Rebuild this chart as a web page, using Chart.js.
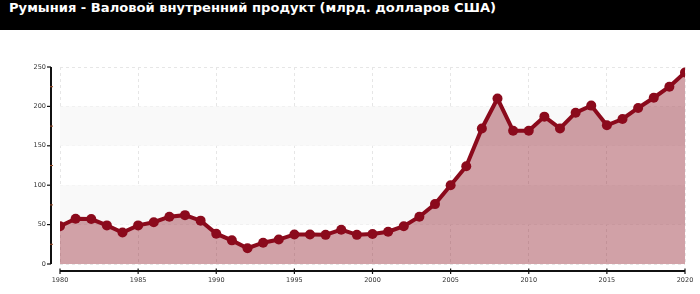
<!DOCTYPE html>
<html>
<head>
<meta charset="utf-8">
<script src="https://cdn.jsdelivr.net/npm/chart.js@4/dist/chart.umd.min.js"></script>
<style>
  body { margin: 0; background: #fff; }
  #title {
    height: 30px; line-height: 30px; background: #000; color: #fff;
    font: bold 13.1px "DejaVu Sans", sans-serif; padding-left: 9px;
  }
  #wrap { width: 700px; height: 264px; }
</style>
</head>
<body>
<div id="title">Румыния - Валовой внутренний продукт (млрд. долларов США)</div>
<div id="wrap"><canvas id="gdpChart" width="700" height="264"></canvas></div>
<script>
const years = [
  1980, 1981, 1982, 1983, 1984, 1985, 1986, 1987, 1988, 1989,
  1990, 1991, 1992, 1993, 1994, 1995, 1996, 1997, 1998, 1999,
  2000, 2001, 2002, 2003, 2004, 2005, 2006, 2007, 2008, 2009,
  2010, 2011, 2012, 2013, 2014, 2015, 2016, 2017, 2018, 2019, 2020
];
const gdp = [
  48, 57.5, 57, 49, 40, 49, 53, 60, 62, 55,
  38.5, 30, 20, 27, 31, 37.5, 37.5, 37, 43.5, 37,
  38, 41, 48, 60, 76, 100, 124, 172, 210, 169,
  169, 187, 172, 192, 201, 176, 184, 198, 211, 225, 243
];
const yTicks = [0, 50, 100, 150, 200, 250];
const yMinorTicks = [25, 75, 125, 175, 225];
const xTicks = [1980, 1985, 1990, 1995, 2000, 2005, 2010, 2015, 2020];

const lineColor = "#8b0a1c";

// полосы фона 50-100 и 150-200
const bandsPlugin = {
  id: "bands",
  beforeDatasetsDraw(chart) {
    const { ctx, chartArea, scales } = chart;
    ctx.save();
    ctx.fillStyle = "#f9f9f9";
    [[50, 100], [150, 200]].forEach(([a, b]) => {
      const y1 = scales.y.getPixelForValue(b);
      const y2 = scales.y.getPixelForValue(a);
      ctx.fillRect(chartArea.left, y1, chartArea.right - chartArea.left, y2 - y1);
    });
    ctx.restore();
  }
};

// оси со смещением, как в оригинале
const axesPlugin = {
  id: "offsetAxes",
  afterDraw(chart) {
    const { ctx, chartArea, scales } = chart;
    const ax = chartArea.left - 9;
    const ay = chartArea.bottom + 7;
    const yTop = scales.y.getPixelForValue(250);
    const yBot = scales.y.getPixelForValue(0);
    const xL = scales.x.getPixelForValue(1980);
    const xR = scales.x.getPixelForValue(2020);
    ctx.save();
    ctx.fillStyle = "#111";
    ctx.fillRect(ax - 1, yTop, 2, yBot - yTop);
    yTicks.forEach(v => {
      ctx.fillRect(ax - 4, scales.y.getPixelForValue(v) - 0.6, 4, 1.2);
    });
    ctx.fillRect(xL, ay - 1, xR - xL, 2);
    xTicks.forEach(v => {
      ctx.fillRect(scales.x.getPixelForValue(v) - 0.6, ay - 2.5, 1.2, 5.5);
    });
    ctx.fillStyle = "#a0522d";
    yMinorTicks.forEach(v => {
      ctx.fillRect(ax - 1, scales.y.getPixelForValue(v) - 0.5, 3, 1);
    });
    ctx.restore();
  }
};

new Chart(document.getElementById("gdpChart"), {
  type: "line",
  data: {
    datasets: [{
      data: years.map((y, i) => ({ x: y, y: gdp[i] })),
      borderColor: lineColor,
      backgroundColor: "rgba(140, 20, 35, 0.4)",
      fill: "origin",
      borderWidth: 4,
      pointRadius: 5,
      pointBackgroundColor: lineColor,
      pointBorderColor: lineColor,
      pointBorderWidth: 0,
      tension: 0
    }]
  },
  options: {
    responsive: false,
    animation: false,
    layout: { padding: { left: 0, right: 15, top: 37, bottom: 0 } },
    plugins: { legend: { display: false }, tooltip: { enabled: false } },
    scales: {
      x: {
        type: "linear",
        min: 1980,
        max: 2020,
        afterFit: s => { s.height = 30; },
        afterBuildTicks: s => { s.ticks = xTicks.map(v => ({ value: v })); },
        border: { display: false, dash: [3, 3] },
        grid: { color: "#e6e6e6", drawTicks: true, tickLength: 10, tickColor: "rgba(0,0,0,0)" },
        ticks: {
          callback: v => String(v),
          padding: 2,
          color: "#333",
          font: { family: "DejaVu Sans", size: 6.5 },
          maxRotation: 0
        }
      },
      y: {
        min: 0,
        max: 250,
        afterFit: s => { s.width = 60; },
        afterBuildTicks: s => { s.ticks = yTicks.map(v => ({ value: v })); },
        border: { display: false, dash: [3, 3] },
        grid: { color: "#e6e6e6", drawTicks: false },
        ticks: {
          padding: 14,
          color: "#333",
          font: { family: "DejaVu Sans", size: 6.5 }
        }
      }
    }
  },
  plugins: [bandsPlugin, axesPlugin]
});
</script>
</body>
</html>
